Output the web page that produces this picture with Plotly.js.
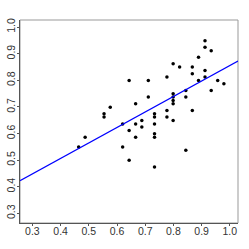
<!DOCTYPE html>
<html>
<head>
<meta charset="utf-8">
<script src="https://cdn.plot.ly/plotly-3.0.1.min.js"></script>
<style>html,body{margin:0;padding:0;background:#fff;}#chart{width:249px;height:249px;}</style>
</head>
<body>
<div id="chart"></div>
<script>
const xValues = [0.912,0.912,0.934,0.889,0.799,0.822,0.867,0.867,0.912,0.643,0.711,0.777,0.912,0.889,0.957,0.979,0.934,0.799,0.844,0.711,0.799,0.844,0.799,0.666,0.799,0.576,0.554,0.554,0.777,0.867,0.733,0.733,0.777,0.688,0.799,0.620,0.666,0.733,0.688,0.643,0.666,0.733,0.733,0.487,0.464,0.620,0.844,0.643,0.733];
const yValues = [0.949,0.924,0.911,0.887,0.862,0.850,0.850,0.825,0.837,0.799,0.799,0.812,0.812,0.799,0.799,0.787,0.762,0.749,0.762,0.737,0.737,0.737,0.724,0.712,0.712,0.699,0.674,0.662,0.686,0.686,0.674,0.662,0.662,0.649,0.649,0.636,0.636,0.636,0.624,0.611,0.586,0.599,0.586,0.586,0.549,0.549,0.537,0.499,0.474];
const lineIntercept = 0.274;
const lineSlope = 0.5816;
const xRange = [0.256, 1.029];
const yRange = [0.2635, 1.0267];
const xTicks = [0.3,0.4,0.5,0.6,0.7,0.8,0.9,1.0];
const xTickLabels = ['0.3','0.4','0.5','0.6','0.7','0.8','0.9','1.0'];
const yTicks = [0.3,0.4,0.5,0.6,0.7,0.8,0.9,1.0];
const yTickLabels = ['0.3','0.4','0.5','0.6','0.7','0.8','0.9','1.0'];

const lineX = [xRange[0], xRange[1]];
const lineY = lineX.map(v => lineIntercept + lineSlope * v);

const traces = [
  {x: xValues, y: yValues, type: 'scatter', mode: 'markers',
   marker: {color: '#000', size: 3.5}, hoverinfo: 'skip'},
  {x: lineX, y: lineY, type: 'scatter', mode: 'lines',
   line: {color: '#0000ff', width: 1.2}, hoverinfo: 'skip'}
];
const axisFont = {family: 'Liberation Sans, Arial, sans-serif', size: 10.5, color: '#333'};
const layout = {
  width: 249, height: 249,
  margin: {l: 20, r: 11, t: 20, b: 26},
  paper_bgcolor: '#fff', plot_bgcolor: '#fff',
  showlegend: false,
  xaxis: {range: xRange, tickvals: xTicks, ticktext: xTickLabels, showgrid: false, zeroline: false,
    showline: true, linecolor: '#555', linewidth: 1, ticks: 'outside', ticklen: 2, tickcolor: '#555',
    ticklabelstandoff: -4, tickfont: axisFont},
  yaxis: {range: yRange, tickvals: yTicks, ticktext: yTickLabels, showgrid: false, zeroline: false,
    showline: true, linecolor: '#555', linewidth: 1, ticks: 'outside', ticklen: 2, tickcolor: '#555',
    ticklabelstandoff: -2, tickangle: -90, tickfont: axisFont},
  shapes: [{type: 'rect', xref: 'paper', yref: 'paper', x0: 0, x1: 1, y0: 0, y1: 1,
    line: {color: '#999', width: 1}, layer: 'below'}]
};
Plotly.newPlot('chart', traces, layout, {staticPlot: true, displayModeBar: false});
</script>
</body>
</html>
